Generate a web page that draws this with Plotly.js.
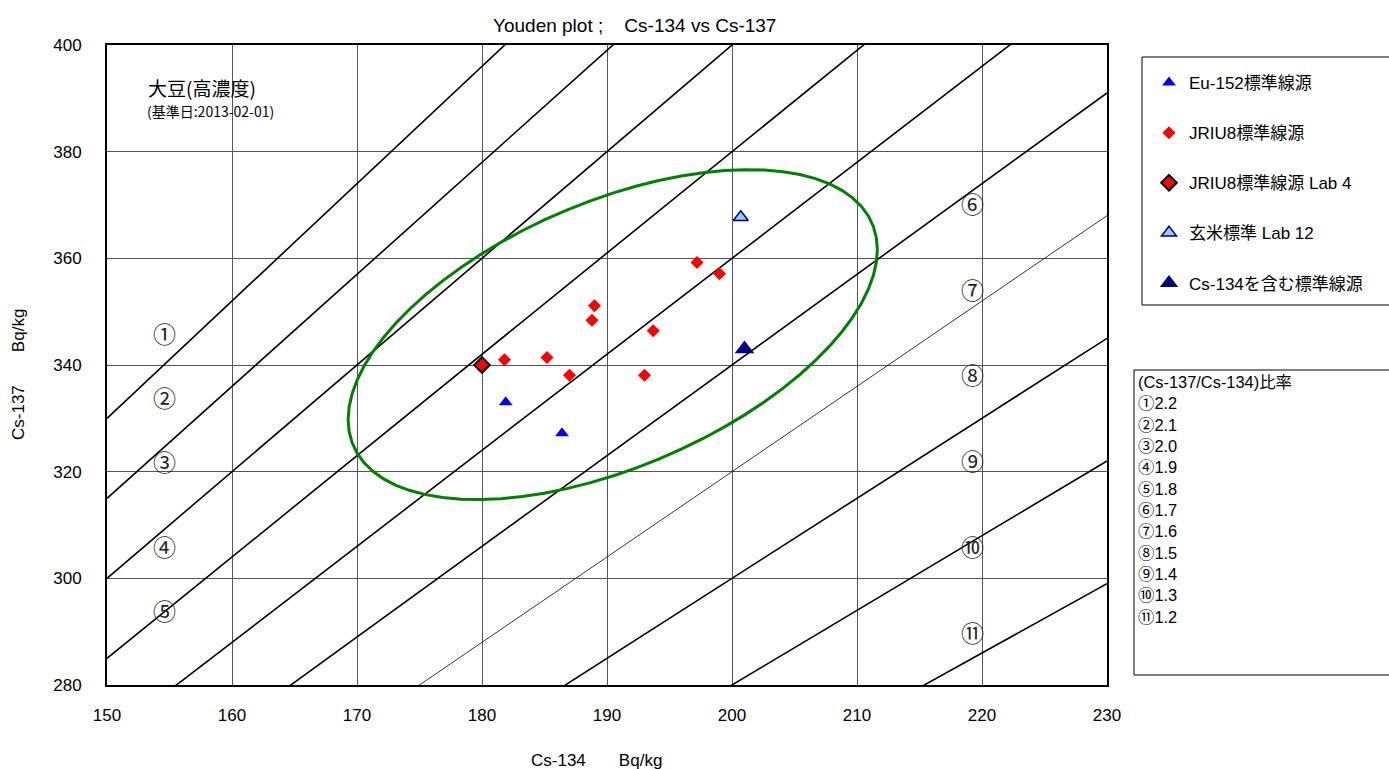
<!DOCTYPE html>
<html>
<head>
<meta charset="utf-8">
<script src="https://cdn.plot.ly/plotly-3.0.1.min.js"></script>
<style>html,body{margin:0;padding:0;background:#fff;}#chart{width:1389px;height:769px;}</style>
</head>
<body>
<div id="chart"></div>
<script>
// ---- data ----
const eu152X = [181.9, 186.4];
const eu152Y = [333.0, 327.2];
const jriuX = [181.8, 185.2, 187.0, 189.0, 188.8, 193.7, 193.0, 197.2, 199.0];
const jriuY = [341.0, 341.4, 338.1, 351.1, 348.4, 346.4, 338.1, 359.2, 357.1];
const lab4X = [180.0];
const lab4Y = [340.0];
const lab12X = [200.7];
const lab12Y = [367.7];
const cs134X = [201.0];
const cs134Y = [343.0];
const ratios = [2.2, 2.1, 2.0, 1.9, 1.8, 1.7, 1.6, 1.5, 1.4, 1.3, 1.2];
const ratioMarks = ['①','②','③','④','⑤','⑥','⑦','⑧','⑨','⑩','⑪'];
// label positions of the circled numbers (data coords)
const markLabelX = [154.6,154.6,154.6,154.6,154.6,219.2,219.2,219.2,219.2,219.2,219.2];
const markLabelY = [346,334,322,306,294,370.4,354.3,338.3,322.2,306.1,290];
// ellipse parameters
const ellCx = 190.46, ellCy = 345.7, ellA = 21.17, ellB = 30.93, ellPhi = 1.03;
const xRange = [150, 230];
const yRange = [280, 400];

const FONT = 'Liberation Sans, Arial, "Noto Sans CJK JP", sans-serif';
const CJK = '"Noto Sans CJK JP", sans-serif';
const traces = [];

// ratio lines y = r*x
ratios.forEach((r) => {
  traces.push({
    x: xRange, y: xRange.map(v => v * r), type: 'scatter', mode: 'lines',
    line: {color: '#000', width: r === 1.6 ? 0.8 : 1.6},
    showlegend: false, hoverinfo: 'skip'
  });
});

// ellipse
const ex = [], ey = [];
for (let k = 0; k <= 72; k++) {
  const t = 2 * Math.PI * k / 72;
  ex.push(ellCx + ellA * Math.cos(t));
  ey.push(ellCy + ellB * Math.cos(t - ellPhi));
}
traces.push({x: ex, y: ey, type: 'scatter', mode: 'lines',
  line: {color: '#008000', width: 3}, showlegend: false, hoverinfo: 'skip'});

traces.push({x: eu152X, y: eu152Y, type: 'scatter', mode: 'markers', name: 'Eu-152標準線源', legendgroup: 'a',
  marker: {symbol: 'triangle-up', size: 12, color: '#0000FF'}});
traces.push({x: jriuX, y: jriuY, type: 'scatter', mode: 'markers', name: 'JRIU8標準線源', legendgroup: 'b',
  marker: {symbol: 'diamond', size: 10, color: '#FF0000'}});
traces.push({x: lab4X, y: lab4Y, type: 'scatter', mode: 'markers', name: 'JRIU8標準線源 Lab 4', legendgroup: 'c',
  marker: {symbol: 'diamond', size: 12, color: '#FF0000', line: {color: '#000', width: 2}}});
traces.push({x: lab12X, y: lab12Y, type: 'scatter', mode: 'markers', name: '玄米標準 Lab 12', legendgroup: 'd',
  marker: {symbol: 'triangle-up', size: 13, color: '#99CCFF', line: {color: '#000080', width: 1.5}}});
traces.push({x: cs134X, y: cs134Y, type: 'scatter', mode: 'markers', name: 'Cs-134を含む標準線源', legendgroup: 'e',
  marker: {symbol: 'triangle-up', size: 17, color: '#000080'}});

const py = p => (685 - p) / 640; // pixel y -> paper y
const px = p => (p - 107) / 1000;
const sp = n => '&nbsp;'.repeat(n);

const annotations = [];
ratioMarks.forEach((m, i) => {
  annotations.push({x: markLabelX[i], y: markLabelY[i], xref: 'x', yref: 'y', text: m, showarrow: false,
    xanchor: 'center', yanchor: 'middle', font: {family: CJK, size: 23, color: '#222'}});
});
annotations.push({x: px(634), y: py(25), xref: 'paper', yref: 'paper', text: 'Youden plot ;' + sp(4) + 'Cs-134 vs Cs-137',
  xanchor: 'center', yanchor: 'middle', showarrow: false, font: {family: FONT, size: 19, color: '#000'}});
annotations.push({x: px(596), y: py(760), xref: 'paper', yref: 'paper', text: 'Cs-134' + sp(7) + 'Bq/kg',
  xanchor: 'center', yanchor: 'middle', showarrow: false, font: {family: FONT, size: 17, color: '#000'}});
annotations.push({x: px(18), y: py(375), xref: 'paper', yref: 'paper', text: 'Cs-137' + sp(7) + 'Bq/kg', textangle: -90,
  xanchor: 'center', yanchor: 'middle', showarrow: false, font: {family: FONT, size: 17, color: '#000'}});
annotations.push({x: px(146), y: py(87), xref: 'paper', yref: 'paper', xanchor: 'left', yanchor: 'middle', text: '大豆(高濃度)',
  showarrow: false, font: {family: CJK, size: 19, color: '#000'}});
annotations.push({x: px(145), y: py(111), xref: 'paper', yref: 'paper', xanchor: 'left', yanchor: 'middle', text: '(基準日:2013-02-01)',
  showarrow: false, font: {family: CJK, size: 14, color: '#000'}});
const ratioLines = ['(Cs-137/Cs-134)比率'].concat(ratioMarks.map((m, i) => m + ratios[i].toFixed(1)));
annotations.push({x: px(1136), y: py(371), xref: 'paper', yref: 'paper', xanchor: 'left', yanchor: 'top', align: 'left',
  text: ratioLines.join('<br>'), showarrow: false, font: {family: FONT, size: 16.4, color: '#000'}});

const shapes = [
  {type: 'rect', xref: 'paper', yref: 'paper', x0: px(110), x1: px(320), y0: py(138), y1: py(72),
   fillcolor: '#fff', line: {width: 0}, layer: 'between'},
  {type: 'rect', xref: 'paper', yref: 'paper', x0: px(1142), x1: px(1392), y0: py(305), y1: py(57),
   fillcolor: 'rgba(0,0,0,0)', line: {color: '#000', width: 1}},
  {type: 'rect', xref: 'paper', yref: 'paper', x0: px(1134), x1: px(1392), y0: py(675), y1: py(370),
   fillcolor: 'rgba(0,0,0,0)', line: {color: '#000', width: 1}}
];

const layout = {
  width: 1389, height: 769,
  margin: {l: 107, r: 282, t: 45, b: 84},
  paper_bgcolor: '#fff', plot_bgcolor: '#fff',
  font: {family: FONT, size: 17, color: '#000'},
  xaxis: {range: xRange, dtick: 10, tick0: 150, showgrid: true, gridcolor: '#555', gridwidth: 1,
    zeroline: false, showline: true, linecolor: '#000', linewidth: 2, mirror: true,
    ticks: '', ticklabelstandoff: 14, tickfont: {family: FONT, size: 17}},
  yaxis: {range: yRange, dtick: 20, tick0: 280, showgrid: true, gridcolor: '#555', gridwidth: 1,
    zeroline: false, showline: true, linecolor: '#000', linewidth: 2, mirror: true,
    ticks: '', ticklabelstandoff: 20, tickfont: {family: FONT, size: 17}},
  showlegend: true,
  legend: {x: px(1149), y: py(65), xanchor: 'left', yanchor: 'top', bgcolor: 'rgba(0,0,0,0)',
    borderwidth: 0, tracegroupgap: 25, traceorder: 'grouped',
    font: {family: FONT, size: 17, color: '#000'}, itemwidth: 30},
  annotations: annotations,
  shapes: shapes
};

Plotly.newPlot('chart', traces, layout, {displayModeBar: false, staticPlot: true});
</script>
</body>
</html>
